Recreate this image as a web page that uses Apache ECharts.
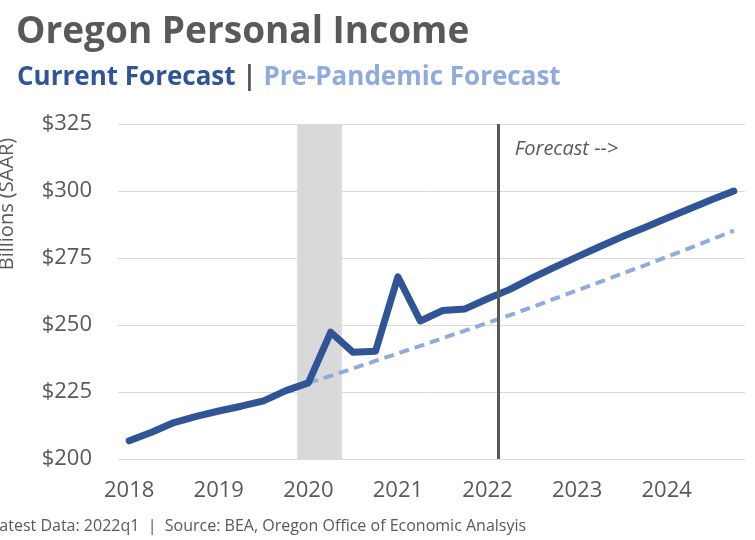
<!DOCTYPE html>
<html>
<head>
<meta charset="utf-8">
<script src="https://cdn.jsdelivr.net/npm/echarts@6/dist/echarts.min.js"></script>
<style>
  html, body { margin: 0; padding: 0; background: #ffffff; }
  #chart { width: 755px; height: 540px; }
</style>
</head>
<body>
<div id="chart"></div>
<script>
// Quarterly categories, 2018Q1 through 2024Q4
const quarters = [
  '2018Q1', '2018Q2', '2018Q3', '2018Q4',
  '2019Q1', '2019Q2', '2019Q3', '2019Q4',
  '2020Q1', '2020Q2', '2020Q3', '2020Q4',
  '2021Q1', '2021Q2', '2021Q3', '2021Q4',
  '2022Q1', '2022Q2', '2022Q3', '2022Q4',
  '2023Q1', '2023Q2', '2023Q3', '2023Q4',
  '2024Q1', '2024Q2', '2024Q3', '2024Q4'
];

// Oregon personal income, billions of dollars (SAAR)
const currentForecast = [
  206.8, 210.0, 213.6, 215.9,
  217.9, 219.7, 221.7, 225.5,
  228.4, 247.3, 239.8, 240.2,
  268.0, 251.5, 255.4, 256.0,
  259.8, 263.3, 267.6, 271.6,
  275.4, 279.2, 282.9, 286.3,
  289.8, 293.3, 296.7, 300.0
];

const prePandemicForecast = [
  null, null, null, null,
  null, null, null, null,
  228.4, 231.0, 233.8, 236.6,
  239.4, 242.2, 245.1, 247.9,
  250.8, 253.7, 256.7, 259.8,
  262.9, 266.0, 269.1, 272.2,
  275.4, 278.6, 281.9, 285.2
];

const yTicks = { min: 200, max: 325, step: 25 };

// Recession shading (2020Q1-2020Q2) and start of forecast (after 2022Q1),
// in quarter-index units on a hidden value axis sharing the grid
const recessionSpan = [7.5, 9.5];
const forecastStart = 16.5;

const titleText = 'Oregon Personal Income';
const sourceText = 'Latest Data: 2022q1  |  Source: BEA, Oregon Office of Economic Analsyis';
const forecastNote = 'Forecast -->';

const FONT = '"Open Sans", Lato, sans-serif';
const GRAY = '#595959';
const DARK_BLUE = '#2f5597';
const LIGHT_BLUE = '#8faadc';

const chart = echarts.init(document.getElementById('chart'), null, { renderer: 'canvas' });

const option = {
  backgroundColor: '#ffffff',
  animation: false,
  title: [
    {
      text: titleText,
      left: 11,
      top: 9,
      textStyle: { fontFamily: FONT, fontSize: 37, fontWeight: 'bold', color: GRAY }
    },
    {
      text: '{cur|Current Forecast}{sep| | }{pre|Pre-Pandemic Forecast}',
      left: 12,
      top: 60,
      textStyle: {
        fontFamily: FONT,
        rich: {
          cur: { fontFamily: FONT, fontSize: 26, fontWeight: 'bold', color: DARK_BLUE },
          sep: { fontFamily: FONT, fontSize: 26, color: GRAY },
          pre: { fontFamily: FONT, fontSize: 26, fontWeight: 'bold', color: LIGHT_BLUE }
        }
      }
    }
  ],
  grid: { left: 118, right: 10, top: 124, bottom: 81, containLabel: false },
  xAxis: [
    {
      type: 'category',
      data: quarters,
      boundaryGap: true,
      axisLine: { show: false },
      axisTick: { show: false },
      axisLabel: {
        interval: 3,
        margin: 21,
        fontFamily: FONT,
        fontSize: 22,
        color: GRAY,
        formatter: v => v.slice(0, 4)
      },
      splitLine: { show: false }
    },
    {
      type: 'value',
      min: -0.5,
      max: quarters.length - 0.5,
      show: false,
      splitLine: { show: false }
    }
  ],
  yAxis: {
    type: 'value',
    min: yTicks.min,
    max: yTicks.max,
    interval: yTicks.step,
    axisLine: { show: false },
    axisTick: { show: false },
    axisLabel: {
      margin: 26,
      fontFamily: FONT,
      fontSize: 22,
      color: GRAY,
      formatter: v => '$' + v
    },
    splitLine: { lineStyle: { color: '#d9d9d9', width: 1 } }
  },
  series: [
    {
      name: 'Markers',
      type: 'line',
      xAxisIndex: 1,
      data: [],
      silent: true,
      z: 1,
      markArea: {
        silent: true,
        itemStyle: { color: '#d9d9d9' },
        data: [[{ xAxis: recessionSpan[0] }, { xAxis: recessionSpan[1] }]]
      },
      markLine: {
        silent: true,
        symbol: ['none', 'none'],
        label: { show: false },
        lineStyle: { color: GRAY, width: 3, type: 'solid' },
        data: [{ xAxis: forecastStart }]
      }
    },
    {
      name: 'Pre-Pandemic Forecast',
      type: 'line',
      data: prePandemicForecast,
      showSymbol: false,
      symbol: 'none',
      z: 3,
      lineStyle: { color: LIGHT_BLUE, width: 4, type: [10, 6] }
    },
    {
      name: 'Current Forecast',
      type: 'line',
      data: currentForecast,
      showSymbol: false,
      symbol: 'none',
      z: 4,
      lineStyle: { color: DARK_BLUE, width: 7, cap: 'round', join: 'round' }
    }
  ]
};

chart.setOption(option);

// Annotations positioned from the axes
const notePos = chart.convertToPixel({ xAxisIndex: 1, yAxisIndex: 0 }, [forecastStart, 315]);
const yMid = chart.convertToPixel({ yAxisIndex: 0 }, 300);

chart.setOption({
  graphic: [
    {
      type: 'text',
      left: notePos[0] + 16,
      top: notePos[1] - 12,
      style: {
        text: forecastNote,
        font: 'italic 20px ' + FONT,
        fill: GRAY
      }
    },
    {
      type: 'text',
      x: 7,
      y: yMid + 13,
      rotation: Math.PI / 2,
      style: {
        text: 'Billions (SAAR)',
        font: '20px ' + FONT,
        fill: GRAY,
        align: 'center',
        verticalAlign: 'middle'
      }
    },
    {
      type: 'text',
      x: -9,
      y: 526,
      style: {
        text: sourceText,
        font: '16px ' + FONT,
        fill: GRAY,
        verticalAlign: 'middle'
      }
    }
  ]
});
</script>
</body>
</html>
